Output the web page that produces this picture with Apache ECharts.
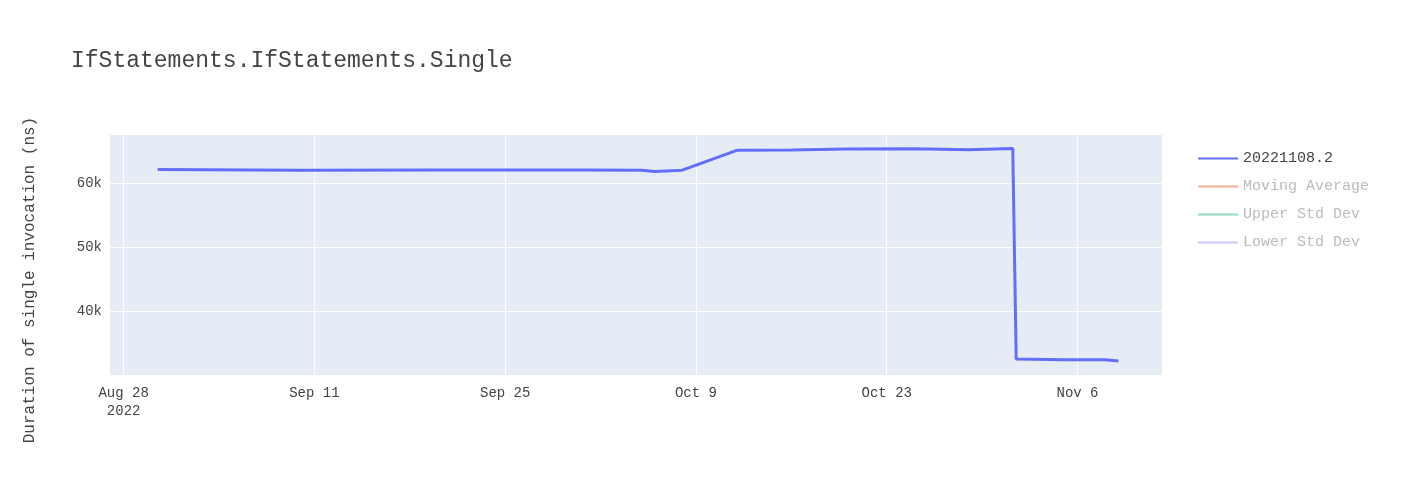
<!DOCTYPE html><html><head><meta charset="utf-8">
<script src="https://cdn.jsdelivr.net/npm/echarts@6/dist/echarts.min.js"></script>
<style>body{margin:0}#c{width:1403px;height:486px}</style></head><body><div id="c"></div>
<script>
const dates = ['2022-08-30T12:00','2022-09-10','2022-09-20','2022-10-01','2022-10-05','2022-10-06','2022-10-08','2022-10-12','2022-10-16','2022-10-20','2022-10-25','2022-10-29','2022-11-01T06:00','2022-11-01T12:00','2022-11-05','2022-11-08','2022-11-09'];
const values = [62100,62000,62050,62050,62000,61800,62000,65100,65150,65300,65350,65200,65400,32500,32400,32400,32200];
const tickDays = [0,14,28,42,56,70];
const tickLabels = ['Aug 28\n2022','Sep 11','Sep 25','Oct 9','Oct 23','Nov 6'];
const yTicks = [40000,50000,60000];
const origin = Date.UTC(2022,7,28);
const dayOf = s => (new Date(s+(s.includes('T')?'Z':'T00:00Z')) - origin)/86400000;
const font = 'Liberation Mono';
const chart = echarts.init(document.getElementById('c'));
chart.setOption({
  backgroundColor:'#fff',
  textStyle:{fontFamily:font},
  title:{text:'IfStatements.IfStatements.Single',left:66,top:44,textStyle:{fontFamily:font,fontSize:23,fontWeight:'normal',color:'#444'}},
  graphic:[{type:'text',x:30,y:280,rotation:Math.PI/2,style:{text:'Duration of single invocation (ns)',font:'16px "Liberation Mono"',fill:'#444',textAlign:'center',textVerticalAlign:'middle'}}],
  grid:{left:110,right:241,top:135,bottom:111,backgroundColor:'#e5ecf6',show:true,borderWidth:0},
  legend:{orient:'vertical',left:1192,top:146,itemWidth:40,itemHeight:2,itemGap:13,textStyle:{fontFamily:font,fontSize:15,color:'#444'},
    data:[{name:'20221108.2'},{name:'Moving Average',textStyle:{color:'#bbb'}},{name:'Upper Std Dev',textStyle:{color:'#bbb'}},{name:'Lower Std Dev',textStyle:{color:'#bbb'}}]},
  xAxis:{type:'value',min:-1,max:76.2,
    axisLine:{show:false},axisTick:{show:false,customValues:tickDays},
    splitLine:{show:true,lineStyle:{color:'#fff',width:1}},
    axisLabel:{customValues:tickDays,formatter:v=>tickLabels[tickDays.indexOf(v)],color:'#444',fontSize:14,fontFamily:font,margin:9,lineHeight:18}},
  yAxis:{type:'value',min:30000,max:67500,
    axisLine:{show:false},axisTick:{show:false,customValues:yTicks},
    splitLine:{show:true,lineStyle:{color:'#fff',width:1}},
    axisLabel:{customValues:yTicks,formatter:v=>v/1000+'k',color:'#444',fontSize:14,fontFamily:font}},
  series:[
    {name:'20221108.2',type:'line',symbol:'none',data:dates.map((d,i)=>[dayOf(d),values[i]]),lineStyle:{color:'#636efa',width:3},itemStyle:{color:'#636efa'}},
    {name:'Moving Average',type:'line',symbol:'none',data:[],itemStyle:{color:'#f4ad8f'},lineStyle:{color:'#f4ad8f'}},
    {name:'Upper Std Dev',type:'line',symbol:'none',data:[],itemStyle:{color:'#8fdcbb'},lineStyle:{color:'#8fdcbb'}},
    {name:'Lower Std Dev',type:'line',symbol:'none',data:[],itemStyle:{color:'#d6c4ff'},lineStyle:{color:'#d6c4ff'}}
  ]
});
</script></body></html>
